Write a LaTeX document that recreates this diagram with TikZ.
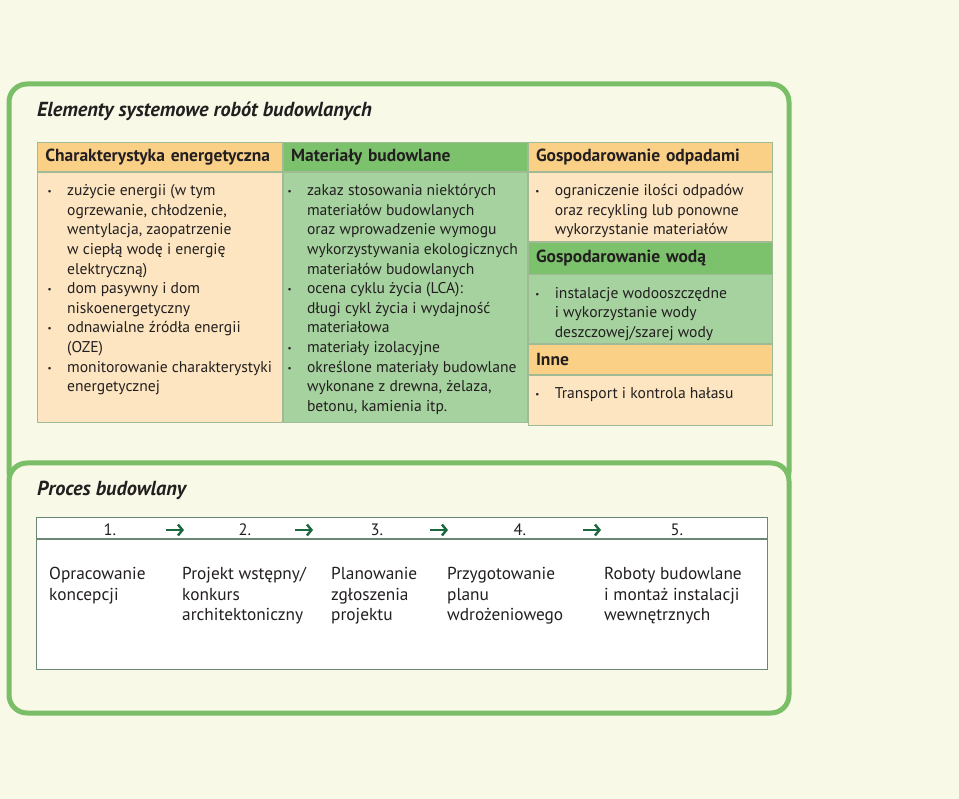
\documentclass[tikz,border=0pt]{standalone}
\usepackage{fontspec}
\setmainfont{PT Sans}
\usetikzlibrary{positioning,arrows.meta}

\definecolor{bgcream}{RGB}{248,249,230}
\definecolor{panelgreen}{RGB}{122,190,104}
\definecolor{hdrgreen}{RGB}{124,194,108}
\definecolor{bodygreen}{RGB}{166,210,160}
\definecolor{hdrorange}{RGB}{250,208,135}
\definecolor{bodypeach}{RGB}{252,229,192}
\definecolor{cellline}{RGB}{160,186,150}
\definecolor{inkdark}{RGB}{35,31,32}
\definecolor{arrowgreen}{RGB}{28,104,64}
\definecolor{stepline}{RGB}{105,135,115}

% bullet and continuation indent
\newcommand{\bu}{\makebox[20pt][l]{\hspace{0.5pt}\raisebox{1pt}{\fontsize{9}{9}\selectfont\textbullet}}}
\newcommand{\ind}{\hspace*{20pt}}

\tikzset{
  panel/.style={draw=panelgreen, line width=5pt, rounded corners=18pt},
  ptitle/.style={anchor=west, inner sep=0pt, font=\fontsize{20.3}{20.3}\selectfont\bfseries\itshape},
  hdr/.style={anchor=north west, minimum height=29pt, inner xsep=8pt, inner ysep=0pt,
    draw=cellline, line width=0.8pt, font=\fontsize{17.5}{17.5}\selectfont\bfseries},
  cell/.style={anchor=north west, inner sep=0pt, draw=cellline, line width=0.8pt},
  bodytext/.style={anchor=north west, inner sep=0pt,
    font=\fontsize{15.6}{19.6}\selectfont},
  stepnum/.style={inner sep=0pt, font=\fontsize{16.5}{16.5}\selectfont},
  steptext/.style={anchor=north west, inner sep=0pt,
    font=\fontsize{17.3}{20.6}\selectfont},
  steparrow/.style={draw=arrowgreen, line width=2.6pt,
    -{Straight Barb[length=4.5pt,width=11pt,line width=2.4pt]}}
}

\begin{document}
\begin{tikzpicture}[x=1pt, y=-1pt, text=inkdark]
    \useasboundingbox (0,0) rectangle (959,799);
    \fill[bgcream] (0,0) rectangle (959,799);

    % Panels
    \draw[panel] (9,84) rectangle (789,490);
    \draw[panel, fill=bgcream] (9,463) rectangle (789,713);

    % Top panel: system elements
    \node[ptitle] (toptitle) at (37,111) {Elementy systemowe robót budowlanych};

    \node[hdr, fill=hdrorange, text width=229pt] (h1) at (37,142) {Charakterystyka energetyczna};
    \node[hdr, fill=hdrgreen, text width=228pt] (h2) at (h1.north east) {Materiały budowlane};
    \node[hdr, fill=hdrorange, text width=228pt] (h3) at (h2.north east) {Gospodarowanie odpadami};

    \node[cell, fill=bodypeach, minimum width=245pt, minimum height=250pt] (c1) at (h1.south west) {};
    \node[cell, fill=bodygreen, minimum width=244pt, minimum height=250pt] (c2) at (h2.south west) {};
    \node[cell, fill=bodypeach, minimum width=244pt, minimum height=69pt] (c3) at (h3.south west) {};
    \node[hdr, fill=hdrgreen, text width=228pt, minimum height=32pt] (h4) at (c3.south west) {Gospodarowanie wodą};
    \node[cell, fill=bodygreen, minimum width=244pt, minimum height=69pt] (c4) at (h4.south west) {};
    \node[hdr, fill=hdrorange, text width=228pt, minimum height=30pt] (h5) at (c4.south west) {Inne};
    \node[cell, fill=bodypeach, minimum width=244pt, minimum height=50pt] (c5) at (h5.south west) {};

    % Column texts
    \node[bodytext] (t1) at ([xshift=10pt,yshift=-10pt]c1.north west) {%
      \begin{tabular}{@{}l@{}}
      \bu zużycie energii (w tym\\ \ind ogrzewanie, chłodzenie,\\ \ind wentylacja, zaopatrzenie\\
      \ind w ciepłą wodę i energię\\ \ind elektryczną)\\
      \bu dom pasywny i dom\\ \ind niskoenergetyczny\\
      \bu odnawialne źródła energii\\ \ind (OZE)\\
      \bu monitorowanie charakterystyki\\ \ind energetycznej
      \end{tabular}};
    \node[bodytext] (t2) at ([xshift=4pt,yshift=-10pt]c2.north west) {%
      \begin{tabular}{@{}l@{}}
      \bu zakaz stosowania niektórych\\ \ind materiałów budowlanych\\ \ind oraz wprowadzenie wymogu\\
      \ind wykorzystywania ekologicznych\\ \ind materiałów budowlanych\\
      \bu ocena cyklu życia (LCA):\\ \ind długi cykl życia i wydajność\\ \ind materiałowa\\
      \bu materiały izolacyjne\\
      \bu określone materiały budowlane\\ \ind wykonane z drewna, żelaza,\\ \ind betonu, kamienia itp.
      \end{tabular}};
    \node[bodytext] (t3) at ([xshift=7pt,yshift=-10pt]c3.north west) {%
      \begin{tabular}{@{}l@{}}
      \bu ograniczenie ilości odpadów\\ \ind oraz recykling lub ponowne\\ \ind wykorzystanie materiałów
      \end{tabular}};
    \node[bodytext] (t4) at ([xshift=7pt,yshift=-10pt]c4.north west) {%
      \begin{tabular}{@{}l@{}}
      \bu instalacje wodooszczędne\\ \ind i wykorzystanie wody\\ \ind deszczowej/szarej wody
      \end{tabular}};
    \node[bodytext] (t5) at ([xshift=7pt,yshift=-10pt]c5.north west) {%
      \begin{tabular}{@{}l@{}}
      \bu Transport i kontrola hałasu
      \end{tabular}};

    % Bottom panel: building process
    \node[ptitle] (bottitle) at (37,490) {Proces budowlany};
    \node[draw=stepline, line width=1.2pt, fill=white, anchor=north west, inner sep=0pt,
      minimum width=731pt, minimum height=152pt] (stepbox) at (36,517) {};
    \draw[stepline, line width=2pt] ([yshift=-22pt]stepbox.north west) -- ([yshift=-22pt]stepbox.north east);

    \node[stepnum] (n1) at (110,530) {1.};
    \node[stepnum] (n2) at (245,530) {2.};
    \node[stepnum] (n3) at (377,530) {3.};
    \node[stepnum] (n4) at (520,530) {4.};
    \node[stepnum] (n5) at (677,530) {5.};

    \foreach \xa/\nm in {175/1,304/2,439/3,592/4} {
        \coordinate (arrs\nm) at (\xa-9,530);
        \coordinate (arre\nm) at (\xa+9,530);
        \draw[steparrow] (arrs\nm) -- (arre\nm);
    }

    \node[steptext] (s1) at (49,565) {\begin{tabular}{@{}l@{}}Opracowanie\\ koncepcji\end{tabular}};
    \node[steptext] (s2) at (182,565) {\begin{tabular}{@{}l@{}}Projekt wstępny/\\ konkurs\\ architektoniczny\end{tabular}};
    \node[steptext] (s3) at (331,565) {\begin{tabular}{@{}l@{}}Planowanie\\ zgłoszenia\\ projektu\end{tabular}};
    \node[steptext] (s4) at (447,565) {\begin{tabular}{@{}l@{}}Przygotowanie\\ planu\\ wdrożeniowego\end{tabular}};
    \node[steptext] (s5) at (604,565) {\begin{tabular}{@{}l@{}}Roboty budowlane\\ i montaż instalacji\\ wewnętrznych\end{tabular}};
\end{tikzpicture}
\end{document}
